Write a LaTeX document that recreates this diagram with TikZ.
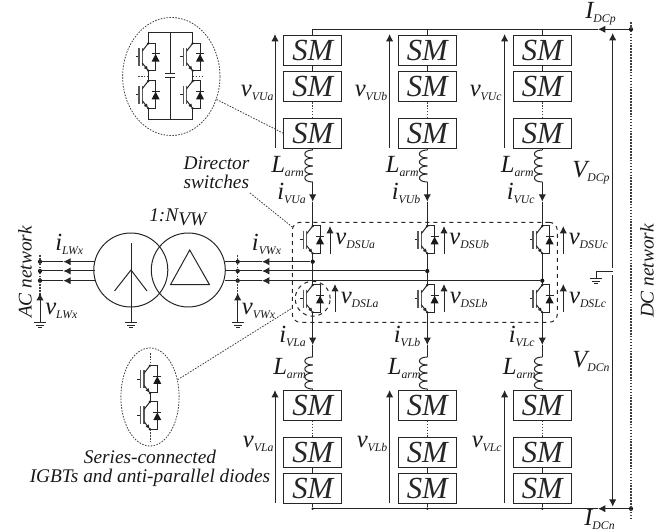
\documentclass[tikz,border=0pt]{standalone}
\usepackage{fontspec}
\setmainfont{Liberation Serif}
\usetikzlibrary{arrows.meta,shapes.geometric}
\newcommand{\lbl}[2]{{\fontsize{18.5}{18.5}\selectfont\itshape #1\raisebox{-2.6pt}{\fontsize{8.8}{9.5}\selectfont #2}}}
\tikzset{
  wire/.style={line width=0.75pt, black!85},
  vtip/.style={wire, -{Latex[length=5.5pt,width=5.5pt]}},
  dots/.style={line width=0.6pt, black!75, dash pattern=on 1.2pt off 1pt},
  smbox/.style={draw, wire, minimum width=43.5pt, minimum height=22.5pt, inner sep=0pt,
    font=\fontsize{23}{23}\selectfont\itshape},
  jdot/.style={circle, fill=black!90, inner sep=0pt, minimum size=3.2pt},
  tdot/.style={circle, fill=black!90, inner sep=0pt, minimum size=2pt},
  txt/.style={anchor=base west, inner sep=0pt, text=black!90},
  note/.style={inner sep=0pt, text=black!90, font=\fontsize{14.5}{14.6}\selectfont\itshape},
  igbt/.pic={
    \coordinate (-C) at (0,-13.7);
    \coordinate (-E) at (0,13.7);
    \draw[wire] (-12.7,0) -- (-9.4,0);
    \draw[line width=0.9pt, black!65] (-9.4,-9) -- (-9.4,9);
    \draw[line width=0.9pt, black!65] (-6,-9) -- (-6,9);
    \draw[wire] (-6,-6) -- (-C);
    \draw[wire, -{Latex[length=3.5pt,width=3pt]}] (-6,6) -- (-E);
    \draw[wire] (-C) -- (7.3,-13.7) -- (7.3,13.7) -- (-E);
    \fill[black!90] (7.3,-3) -- (3.3,4.6) -- (11.3,4.6) -- cycle;
    \draw[wire] (3.3,-3) -- (11.3,-3);
    \node[tdot] at (-C) {};
    \node[tdot] at (-E) {};
  },
  gnd/.pic={
    \draw[wire] (-6,0) -- (6,0);
    \draw[wire] (-4,2.4) -- (4,2.4);
    \draw[wire] (-2,4.8) -- (2,4.8);
  },
  armcoil/.pic={
    \coordinate (-T) at (0,0);
    \coordinate (-B) at (0,32);
    \foreach \k in {0,...,3} {
      \draw[wire] (0,{8*\k}) .. controls (-10.5,{8*\k}) and (-10.5,{8*\k+8}) .. (0,{8*\k+8});
    }
  },
}
\begin{document}
\begin{tikzpicture}[x=0.75pt,y=-0.75pt]
  \useasboundingbox (0,0) rectangle (669,531);

  % DC rails
  \node[jdot] (DCp) at (631,29.3) {};
  \node[jdot] (DCn) at (631,508.7) {};
  \coordinate (ArrP) at (598,29.3);
  \coordinate (ArrN) at (598,508.7);
  \coordinate (RailPa) at (312.7,29.3);
  \coordinate (RailNa) at (312.7,508.7);
  \coordinate (DCtop) at (631,22);
  \coordinate (DCbot) at (631,520);
  \draw[vtip] (DCp) -- (ArrP);
  \draw[wire] (ArrP) -- (RailPa);
  \draw[vtip] (DCn) -- (ArrN);
  \draw[wire] (ArrN) -- (RailNa);
  \draw[dots, line width=0.9pt] (DCtop) -- (DCbot);
  \node[txt] (IDCp) at (585,19) {\lbl{I}{DCp}};
  \node[txt] (IDCn) at (584,526) {\lbl{I}{DCn}};

  % Midpoint ground and DC link voltages
  \coordinate (VpB) at (612.7,268);
  \coordinate (VpT) at (612.7,33);
  \coordinate (VnT) at (612.7,275);
  \coordinate (VnB) at (612.7,506.7);
  \coordinate (GndR) at (612.7,271.3);
  \coordinate (GndC) at (596,271.3);
  \coordinate (GndDC) at (596,279);
  \draw[vtip] (VpB) -- (VpT);
  \draw[vtip] (VnT) -- (VnB);
  \draw[wire] (GndR) -- (GndC) -- (GndDC);
  \pic at (GndDC) {gnd};
  \node[txt] (VDCp) at (572,178) {\lbl{V}{DCp}};
  \node[txt] (VDCn) at (572,368) {\lbl{V}{DCn}};
  \node[note, rotate=90] (DCnet) at (647,271) {DC network};

  % Arms
  \foreach \ph/\cx in {a/312.7,b/427.3,c/542.3} {
    \coordinate (RailP\ph) at (\cx,29.3);
    \node[tdot] (RailN\ph) at (\cx,508.7) {};
    \node[smbox] (SMU\ph1) at (\cx,50.7) {SM};
    \node[smbox] (SMU\ph2) at (\cx,86.5) {SM};
    \node[smbox] (SMU\ph3) at (\cx,133.2) {SM};
    \node[smbox] (SML\ph1) at (\cx,405.3) {SM};
    \node[smbox] (SML\ph2) at (\cx,452.5) {SM};
    \node[smbox] (SML\ph3) at (\cx,488.3) {SM};
    \pic (CU\ph) at (\cx,150) {armcoil};
    \pic (CL\ph) at (\cx,357) {armcoil};
    \pic (SU\ph) at (\cx,239.7) {igbt};
    \pic (SL\ph) at (\cx,298.7) {igbt};
    \coordinate (IU\ph) at (\cx,201.7);
    \coordinate (IL\ph) at (\cx,345);

    \draw[wire] (RailP\ph) -- (SMU\ph1);
    \draw[wire] (SMU\ph1) -- (SMU\ph2);
    \draw[dots] (SMU\ph2) -- (SMU\ph3);
    \draw[wire] (SMU\ph3) -- (CU\ph-T);
    \draw[vtip] (CU\ph-B) -- (IU\ph);
    \draw[wire] (IU\ph) -- (SU\ph-C);
    \draw[wire] (SU\ph-E) -- (SL\ph-C);
    \draw[vtip] (SL\ph-E) -- (IL\ph);
    \draw[wire] (IL\ph) -- (CL\ph-T);
    \draw[wire] (CL\ph-B) -- (SML\ph1);
    \draw[dots] (SML\ph1) -- (SML\ph2);
    \draw[wire] (SML\ph2) -- (SML\ph3);
    \draw[wire] (SML\ph3) -- (RailN\ph);
  }

  % Arm voltages and labels
  \foreach \ph/\ax/\tx in {a/275/240.7,b/389.6/354.5,c/504.6/469.5} {
    \coordinate (VUb\ph) at (\ax,148.3);
    \coordinate (VUt\ph) at (\ax,34);
    \coordinate (VLb\ph) at (\ax,503.5);
    \coordinate (VLt\ph) at (\ax,390);
    \draw[vtip] (VUb\ph) -- (VUt\ph);
    \draw[vtip] (VLb\ph) -- (VLt\ph);
    \node[txt] (vVU\ph) at (\tx,96.7) {\lbl{v}{VU\ph}};
    \node[txt] (vVL\ph) at (\tx+2,448) {\lbl{v}{VL\ph}};
  }
  \foreach \ph/\tx in {a/271,b/385.6,c/500.6} {
    \node[txt] (LU\ph) at (\tx,173) {\lbl{L}{arm}};
    \node[txt] (LL\ph) at (\tx+2,375) {\lbl{L}{arm}};
    \node[txt] (iU\ph) at (\tx+6,200) {\lbl{i}{VU\ph}};
    \node[txt] (iL\ph) at (\tx+8,343) {\lbl{i}{VL\ph}};
  }

  % Switch voltages
  \foreach \ph/\ux/\lx in {a/330/335,b/444/444,c/563.3/563.3} {
    \coordinate (DUb\ph) at (\ux,254);
    \coordinate (DUt\ph) at (\ux,226);
    \coordinate (DLb\ph) at (\lx,312);
    \coordinate (DLt\ph) at (\lx,284);
    \draw[vtip] (DUb\ph) -- (DUt\ph);
    \draw[vtip] (DLb\ph) -- (DLt\ph);
    \node[txt] (vDU\ph) at (\ux+5.2,245) {\lbl{v}{DSU\ph}};
    \node[txt] (vDL\ph) at (\lx+5.5,304) {\lbl{v}{DSL\ph}};
  }

  % Director switches frame
  \node[draw, wire, dashed, rounded corners=6pt, inner sep=0pt, minimum width=198.75pt,
    minimum height=75pt] (DSbox) at (424.8,272.3) {};
  \node[draw, wire, dashed, circle, inner sep=0pt, minimum size=26.2pt] (DSring) at (312.7,298.7) {};
  \node[note, align=left, anchor=base west] (DSnote) at (183.3,189) {Director\\switches};
  \coordinate (DSnoteEnd) at (250,193);
  \coordinate (DSboxUp) at (292.3,227);
  \coordinate (DSboxLow) at (292.3,308);
  \draw[dots] (DSnoteEnd) -- (DSboxUp);

  % Phase wires
  \foreach \ph/\py/\cx in {a/261.7/312.7,b/271/427.3,c/280.7/542.3} {
    \node[jdot] (PhN\ph) at (\cx,\py) {};
    \node[jdot] (PhV\ph) at (237.7,\py) {};
    \node[jdot] (PhL\ph) at (40,\py) {};
    \coordinate (ArrV\ph) at (262,\py);
    \coordinate (ArrL\ph) at (63.3,\py);
    \coordinate (TrR\ph) at (224.5,\py);
    \coordinate (TrL\ph) at (94.5,\py);
    \draw[vtip] (PhN\ph) -- (ArrV\ph);
    \draw[wire] (ArrV\ph) -- (TrR\ph);
    \draw[vtip] (TrL\ph) -- (ArrL\ph);
    \draw[wire] (ArrL\ph) -- (PhL\ph);
  }

  % Transformer
  \node[draw, wire, circle, inner sep=0pt, minimum size=55.5pt] (TrL) at (130.8,270) {};
  \node[draw, wire, circle, inner sep=0pt, minimum size=55.5pt] (TrR) at (188.3,270) {};
  \coordinate (StarT) at (131,243);
  \coordinate (StarM) at (131,270);
  \coordinate (StarA) at (114.5,291);
  \coordinate (StarB) at (147,291);
  \coordinate (GndT) at (131,323);
  \draw[wire] (StarT) -- (GndT);
  \draw[wire] (StarA) -- (StarM) -- (StarB);
  \pic at (GndT) {gnd};
  \draw[wire] (189.7,250) -- (170.5,284.7) -- (209.5,284.7) -- cycle;
  \node[txt] (Ratio) at (149,221.7) {\fontsize{14.5}{15}\selectfont\itshape 1:N\raisebox{-3pt}{VW}};

  % AC side voltages
  \foreach \nm/\vx/\tx/\ilx/\ilab/\vlab in {L/40/45/55/LWx/LWx,V/237.7/241.7/251.7/VWx/VWx} {
    \coordinate (Bt\nm) at (\vx,255);
    \coordinate (Bb\nm) at (\vx,295);
    \coordinate (Gn\nm) at (\vx,323);
    \coordinate (Tp\nm) at (\vx,293);
    \draw[dots, line width=0.8pt] (Bt\nm) -- (Bb\nm);
    \draw[vtip] (Gn\nm) -- (Tp\nm);
    \pic at (Gn\nm) {gnd};
    \node[txt] (v\nm) at (\tx,315) {\lbl{v}{\vlab}};
    \node[txt] (i\nm) at (\ilx,251) {\lbl{i}{\ilab}};
  }
  \node[note, rotate=90] (ACnet) at (25,272) {AC network};

  % Full bridge detail
  \node[draw, dots, ellipse, inner sep=0pt, minimum width=73pt, minimum height=88.5pt] (FBell) at (171.3,76.5) {};
  \foreach \nm/\fx/\fy in {FA/148.3/57,FB/148.3/94.7,FC/192.7/57,FD/192.7/94.7} {
    \pic (\nm) at (\fx,\fy) {igbt};
  }
  \coordinate (FtopL) at (148.3,33);
  \coordinate (FtopR) at (192.7,33);
  \coordinate (FbotL) at (148.3,119.3);
  \coordinate (FbotR) at (192.7,119.3);
  \coordinate (FcapT) at (170.3,33);
  \coordinate (FcapA) at (170.3,74);
  \coordinate (FcapB) at (170.3,77.7);
  \coordinate (FcapE) at (170.3,119.3);
  \draw[wire] (FA-C) -- (FtopL) -- (FtopR) -- (FC-C);
  \draw[wire] (FB-E) -- (FbotL) -- (FbotR) -- (FD-E);
  \draw[wire] (FA-E) -- (FB-C);
  \draw[wire] (FC-E) -- (FD-C);
  \draw[wire] (FcapT) -- (FcapA);
  \draw[wire] (FcapB) -- (FcapE);
  \draw[wire] (165.3,74) -- (175.3,74);
  \draw[wire] (165.3,77.7) -- (175.3,77.7);
  \draw[dots] (138,76) -- (148.3,76);
  \draw[dots] (192.7,76) -- (202.7,76);
  \draw[dots] (FBell) -- (SMUa3.west);

  % Series connected detail
  \node[draw, dots, ellipse, inner sep=0pt, minimum width=43.7pt, minimum height=73.5pt] (SCell) at (150,397) {};
  \pic (SCa) at (150,379.3) {igbt};
  \pic (SCb) at (150,415.5) {igbt};
  \coordinate (SCt) at (150,353);
  \coordinate (SCe) at (150,442);
  \draw[dots] (SCt) -- (SCa-C);
  \draw[wire] (SCa-E) -- (SCb-C);
  \draw[dots] (SCb-E) -- (SCe);
  \draw[dots] (SCell) -- (DSboxLow);
  \node[note, align=center, anchor=base] (SCnote) at (150,483) {Series-connected\\IGBTs and anti-parallel diodes};
\end{tikzpicture}
\end{document}
